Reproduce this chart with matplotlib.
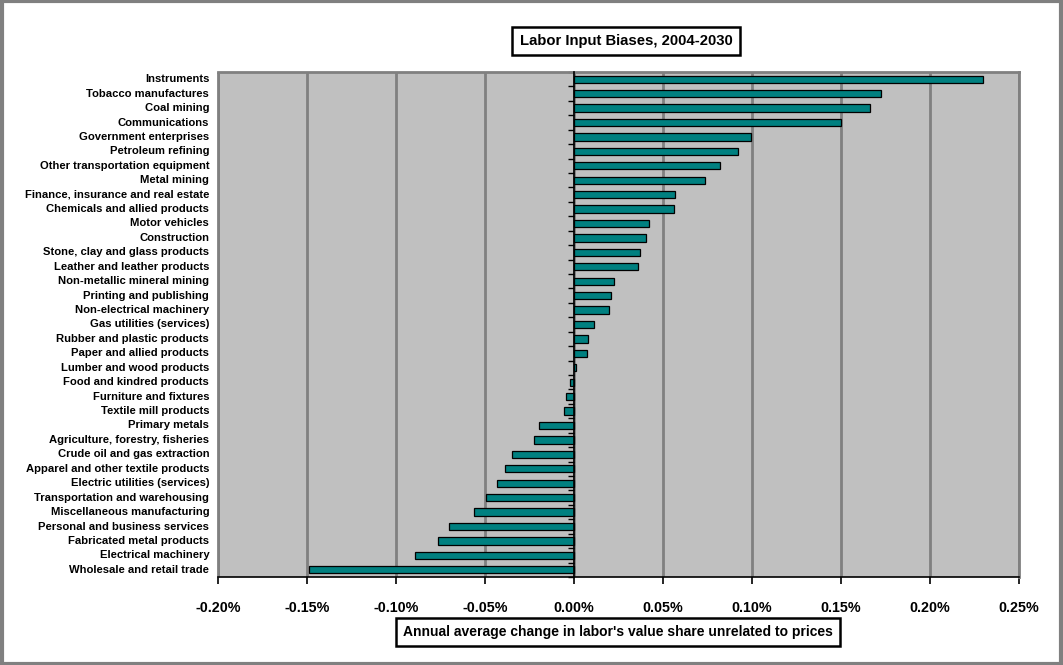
import matplotlib
matplotlib.use("Agg")
import matplotlib.pyplot as plt
from matplotlib.patches import Rectangle
from matplotlib.ticker import FuncFormatter, FixedLocator
import matplotlib.transforms as mtransforms

plt.rcParams['font.family'] = ['Liberation Sans', 'DejaVu Sans']

categories = [
    "Instruments", "Tobacco manufactures", "Coal mining", "Communications",
    "Government enterprises", "Petroleum refining", "Other transportation equipment",
    "Metal mining", "Finance, insurance and real estate", "Chemicals and allied products",
    "Motor vehicles", "Construction", "Stone, clay and glass products",
    "Leather and leather products", "Non-metallic mineral mining", "Printing and publishing",
    "Non-electrical machinery", "Gas utilities (services)", "Rubber and plastic products",
    "Paper and allied products", "Lumber and wood products", "Food and kindred products",
    "Furniture and fixtures", "Textile mill products", "Primary metals",
    "Agriculture, forestry, fisheries", "Crude oil and gas extraction",
    "Apparel and other textile products", "Electric utilities (services)",
    "Transportation and warehousing", "Miscellaneous manufacturing",
    "Personal and business services", "Fabricated metal products",
    "Electrical machinery", "Wholesale and retail trade",
]
# annual average change, in percent
values = [
    0.2296, 0.1723, 0.1663, 0.1500,
    0.0993, 0.0920, 0.0820,
    0.0734, 0.0566, 0.0560,
    0.0423, 0.0403, 0.0371,
    0.0360, 0.0223, 0.0206,
    0.0197, 0.0112, 0.0080,
    0.0071, 0.0013, -0.0021,
    -0.0043, -0.0054, -0.0195,
    -0.0223, -0.0348,
    -0.0386, -0.0433,
    -0.0496, -0.0560,
    -0.0701, -0.0764,
    -0.0891, -0.1487,
]
x_ticks = [-0.20, -0.15, -0.10, -0.05, 0.00, 0.05, 0.10, 0.15, 0.20, 0.25]
title = "Labor Input Biases, 2004-2030"
xlabel = "Annual average change in labor's value share unrelated to prices"

W, H = 1063, 665
fig = plt.figure(figsize=(W / 100, H / 100), dpi=100)
fig.patch.set_facecolor("white")

# outer border
fig.patches.append(Rectangle((0.0015, 0.002), 0.997, 0.996, transform=fig.transFigure,
                             fill=False, edgecolor="#808080", linewidth=3))

left, right, top, bottom = 218, 1019, 72, 577
ax = fig.add_axes([left / W, 1 - bottom / H, (right - left) / W, (bottom - top) / H])
ax.set_facecolor("#C0C0C0")

n = len(categories)
ypos = list(range(n))
ax.barh(ypos, values, height=0.5, color="#008080", edgecolor="black", linewidth=0.9, zorder=3)

ax.set_xlim(x_ticks[0], x_ticks[-1])
ax.set_ylim(n - 0.5, -0.5)

# grid
ax.xaxis.set_major_locator(FixedLocator(x_ticks))
ax.xaxis.set_major_formatter(FuncFormatter(lambda v, p: f"{v:.2f}%"))
ax.grid(axis="x", color="#808080", linewidth=2, zorder=1)
ax.set_axisbelow(True)

for side in ["top", "right"]:
    ax.spines[side].set_color("#808080")
    ax.spines[side].set_linewidth(2)
ax.spines["bottom"].set_color("black")
ax.spines["bottom"].set_linewidth(1.2)
ax.spines["left"].set_position(("data", 0))
ax.spines["left"].set_color("black")
ax.spines["left"].set_linewidth(1.2)
ax.spines["left"].set_zorder(4)

# left gray border of plot area
ax.add_patch(Rectangle((0, 0), 0.0, 1, transform=ax.transAxes, fill=False,
                       edgecolor="#808080", linewidth=2, clip_on=False, zorder=2))

ax.tick_params(axis="x", direction="out", length=5, width=1.2, color="black",
               labelsize=10.3, pad=12)
for lab in ax.get_xticklabels():
    lab.set_fontweight("bold")

ax.set_yticks([i + 0.5 for i in range(-1, n)], minor=False)
ax.set_yticklabels([])
ax.tick_params(axis="y", direction="out", length=4, width=1, color="black")

trans = mtransforms.blended_transform_factory(ax.transAxes, ax.transData)
for i, c in enumerate(categories):
    ax.text(-0.011, i, c, transform=trans, ha="right", va="center",
            fontsize=8.1, fontweight="bold", color="black")

# title box
fig.text(626 / W, 1 - 41 / H, title, ha="center", va="center", fontsize=10.7,
         fontweight="bold",
         bbox=dict(boxstyle="square,pad=0.5", facecolor="white", edgecolor="black", linewidth=1.8))

# x label box
fig.text(403 / W, 1 - 632 / H, xlabel, ha="left", va="center", fontsize=10.0,
         fontweight="bold",
         bbox=dict(boxstyle="square,pad=0.5", facecolor="white", edgecolor="black", linewidth=1.8))

fig.savefig("out.png", dpi=100)
